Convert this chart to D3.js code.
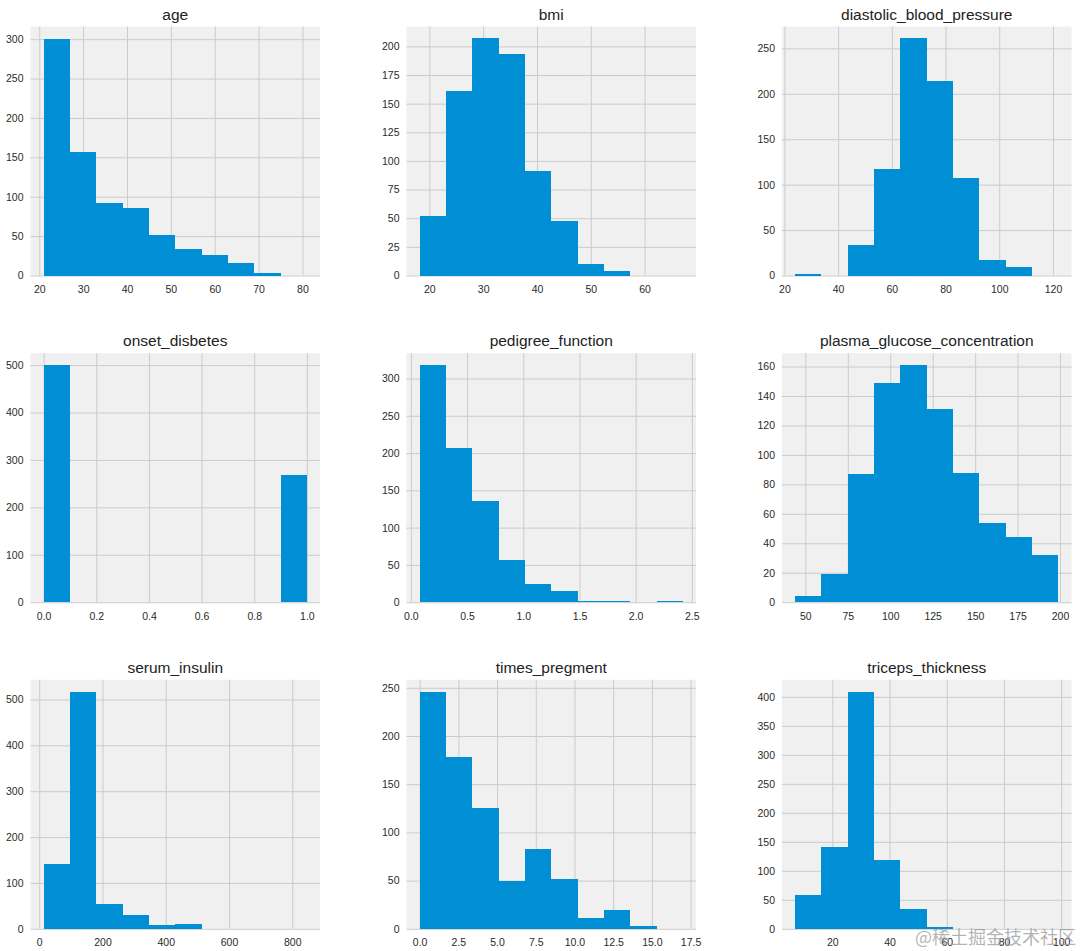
<!DOCTYPE html>
<html>
<head>
<meta charset="utf-8">
<script src="https://cdn.jsdelivr.net/npm/d3@7"></script>
<style>
  html, body { margin: 0; padding: 0; background: #ffffff; }
  svg { display: block; }
</style>
</head>
<body>
<svg id="chart" width="1080" height="951"></svg>
<script>
// ---- data ----
const titles = ["age", "bmi", "diastolic_blood_pressure",
                "onset_disbetes", "pedigree_function", "plasma_glucose_concentration",
                "serum_insulin", "times_pregment", "triceps_thickness"];

// data min / max for each column (histogram range, 10 equal bins)
const binMins = [21, 18.2, 24, 0, 0.078, 44, 14, 0, 7];
const binMaxs = [81, 67.1, 122, 1, 2.42, 199, 846, 17, 99];

// counts per bin (bins too small to be seen in the reference read as 0)
const countsAge        = [300, 157, 92, 86, 52, 34, 26, 16, 3, 0];
const countsBmi        = [52, 161, 207, 193, 91, 48, 10, 4, 0, 0];
const countsDiastolic  = [2, 0, 34, 117, 261, 214, 107, 17, 9, 0];
const countsOnset      = [500, 0, 0, 0, 0, 0, 0, 0, 0, 268];
const countsPedigree   = [318, 207, 136, 57, 25, 15, 2, 2, 0, 2];
const countsPlasma     = [4, 19, 87, 149, 161, 131, 88, 54, 44, 32];
const countsInsulin    = [142, 517, 55, 29, 8, 11, 0, 0, 0, 0];
const countsPregnant   = [246, 178, 125, 50, 83, 52, 11, 19, 3, 0];
const countsTriceps    = [59, 141, 408, 119, 35, 3, 0, 0, 0, 0];
const allCounts = [countsAge, countsBmi, countsDiastolic, countsOnset, countsPedigree,
                   countsPlasma, countsInsulin, countsPregnant, countsTriceps];

// tick values / labels
const xTicksAge = [20, 30, 40, 50, 60, 70, 80];
const xTicksBmi = [20, 30, 40, 50, 60];
const xTicksDia = [20, 40, 60, 80, 100, 120];
const xTicksOnset = [0, 0.2, 0.4, 0.6, 0.8, 1.0];
const xTicksPed = [0, 0.5, 1.0, 1.5, 2.0, 2.5];
const xTicksPlasma = [50, 75, 100, 125, 150, 175, 200];
const xTicksIns = [0, 200, 400, 600, 800];
const xTicksPreg = [0, 2.5, 5, 7.5, 10, 12.5, 15, 17.5];
const xTicksTri = [20, 40, 60, 80, 100];
const allXTicks = [xTicksAge, xTicksBmi, xTicksDia, xTicksOnset, xTicksPed,
                   xTicksPlasma, xTicksIns, xTicksPreg, xTicksTri];
const xTickDecimals = [0, 0, 0, 1, 1, 0, 0, 1, 0];

const yTicksAge = [0, 50, 100, 150, 200, 250, 300];
const yTicksBmi = [0, 25, 50, 75, 100, 125, 150, 175, 200];
const yTicksDia = [0, 50, 100, 150, 200, 250];
const yTicksOnset = [0, 100, 200, 300, 400, 500];
const yTicksPed = [0, 50, 100, 150, 200, 250, 300];
const yTicksPlasma = [0, 20, 40, 60, 80, 100, 120, 140, 160];
const yTicksIns = [0, 100, 200, 300, 400, 500];
const yTicksPreg = [0, 50, 100, 150, 200, 250];
const yTicksTri = [0, 50, 100, 150, 200, 250, 300, 350, 400];
const allYTicks = [yTicksAge, yTicksBmi, yTicksDia, yTicksOnset, yTicksPed,
                   yTicksPlasma, yTicksIns, yTicksPreg, yTicksTri];
// y-axis upper limit (largest bin, +5% margin applied below)
const yTops = [301, 207, 261, 500, 318, 161, 517, 246, 409];

const watermark = "@稀土掘金技术社区";

// ---- layout ----
const colLeft = [30.5, 406.5, 782];
const rowTop = [26.5, 353.2, 679.8];
const panelW = 289.5;
const panelH = 249;

const svg = d3.select("#chart");
const font = "'Liberation Sans', Arial, Helvetica, sans-serif";

titles.forEach((title, i) => {
  const r = Math.floor(i / 3), c = i % 3;
  const g = svg.append("g").attr("transform", `translate(${colLeft[c]},${rowTop[r]})`);
  const lo = binMins[i], hi = binMaxs[i];
  const pad = (hi - lo) * 0.05;
  const counts = allCounts[i];
  const ymax = yTops[i] * 1.05;

  const x = d3.scaleLinear().domain([lo - pad, hi + pad]).range([0, panelW]);
  const y = d3.scaleLinear().domain([0, ymax]).range([panelH, 0]);

  g.append("rect").attr("width", panelW).attr("height", panelH).attr("fill", "#f0f0f0");

  // grid (behind bars)
  const gx = d3.axisBottom(x).tickValues(allXTicks[i]).tickSize(-panelH).tickFormat("");
  const gy = d3.axisLeft(y).tickValues(allYTicks[i]).tickSize(-panelW).tickFormat("");
  const gridX = g.append("g").attr("transform", `translate(0,${panelH})`).call(gx);
  const gridY = g.append("g").call(gy);
  [gridX, gridY].forEach(gg => {
    gg.select(".domain").remove();
    gg.selectAll("line").attr("stroke", "#cbcbcb").attr("stroke-width", 1);
  });

  // bars
  const w = (hi - lo) / counts.length;
  const bins = counts.map((v, k) => ({ x0: lo + k * w, x1: lo + (k + 1) * w, v }));
  g.append("g").attr("shape-rendering", "crispEdges")
    .selectAll("rect").data(bins.filter(d => d.v > 0)).join("rect")
    .attr("x", d => x(d.x0))
    .attr("width", d => x(d.x1) - x(d.x0))
    .attr("y", d => y(d.v))
    .attr("height", d => panelH - y(d.v))
    .attr("fill", "#008fd5");

  // tick labels
  const fmt = d3.format("." + xTickDecimals[i] + "f");
  const ax = d3.axisBottom(x).tickValues(allXTicks[i]).tickSize(0).tickPadding(10).tickFormat(fmt);
  const ay = d3.axisLeft(y).tickValues(allYTicks[i]).tickSize(0).tickPadding(7).tickFormat(d3.format("d"));
  const axX = g.append("g").attr("transform", `translate(0,${panelH})`).call(ax);
  const axY = g.append("g").call(ay);
  [axX, axY].forEach(gg => {
    gg.select(".domain").remove();
    gg.selectAll("text").attr("fill", "#2a2a2a").style("font-family", font).style("font-size", "10.5px");
  });

  // title
  g.append("text")
    .attr("x", panelW / 2).attr("y", -7)
    .attr("text-anchor", "middle")
    .style("font-family", font).style("font-size", "15.5px")
    .attr("fill", "#222")
    .text(title);
});

// watermark (overlays the last tick labels, as in the reference)
svg.append("text")
  .attr("x", 1076).attr("y", 944)
  .attr("text-anchor", "end")
  .style("font-family", "'Noto Sans CJK SC', sans-serif")
  .style("font-size", "18px")
  .attr("fill", "#9a9a9a").attr("fill-opacity", 0.75)
  .text(watermark);
</script>
</body>
</html>
